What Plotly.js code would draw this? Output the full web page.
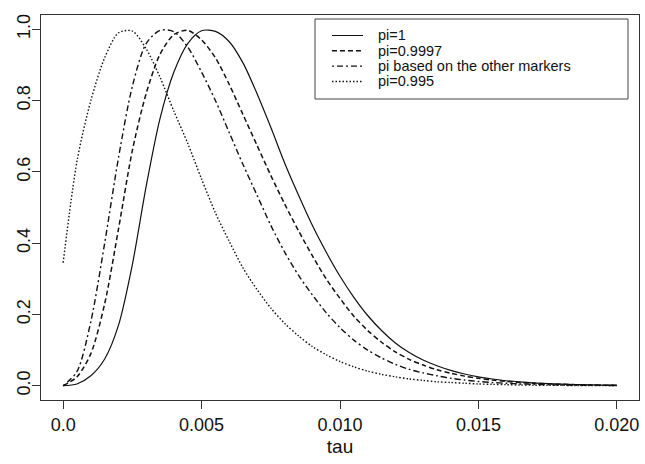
<!DOCTYPE html>
<html>
<head>
<meta charset="utf-8">
<script src="https://cdn.plot.ly/plotly-3.0.1.min.js"></script>
<style>html,body{margin:0;padding:0;background:#fff;}#chart{width:645px;height:464px;}</style>
</head>
<body>
<div id="chart"></div>
<script>
// tau grid (x values)
const tau = [0,0.0005,0.001,0.0015,0.002,0.0025,0.003,0.0035,0.004,0.0045,0.005,0.0055,0.006,0.0065,0.007,0.0075,0.008,0.0085,0.009,0.0095,0.010,0.0105,0.011,0.0115,0.012,0.0125,0.013,0.0135,0.014,0.0145,0.015,0.0155,0.016,0.0165,0.017,0.0175,0.018,0.0185,0.019,0.0195,0.020];

// series values
const pi1 = [0,0.005,0.028,0.075,0.17,0.34,0.56,0.75,0.88,0.96,0.996,0.994,0.965,0.905,0.82,0.725,0.625,0.535,0.45,0.375,0.307,0.248,0.197,0.155,0.12,0.093,0.072,0.056,0.043,0.033,0.025,0.019,0.014,0.011,0.008,0.006,0.0045,0.0035,0.0025,0.002,0.0015];
const pi9997 = [0,0.025,0.09,0.23,0.44,0.66,0.82,0.93,0.985,0.997,0.97,0.92,0.845,0.76,0.675,0.59,0.51,0.435,0.365,0.30,0.245,0.195,0.155,0.122,0.095,0.074,0.058,0.045,0.035,0.027,0.021,0.016,0.012,0.009,0.007,0.005,0.004,0.003,0.002,0.0015,0.001];
const piOther = [0,0.04,0.18,0.40,0.64,0.84,0.96,0.997,0.993,0.95,0.88,0.80,0.71,0.62,0.535,0.45,0.375,0.31,0.255,0.205,0.163,0.128,0.1,0.078,0.06,0.046,0.036,0.028,0.021,0.016,0.012,0.009,0.007,0.005,0.004,0.003,0.002,0.0015,0.001,0.001,0.0005];
const pi995 = [0.345,0.63,0.80,0.92,0.99,0.995,0.945,0.865,0.77,0.68,0.58,0.485,0.405,0.33,0.27,0.218,0.175,0.14,0.11,0.087,0.068,0.053,0.041,0.032,0.025,0.019,0.015,0.011,0.009,0.007,0.005,0.004,0.003,0.002,0.0015,0.001,0.001,0.0005,0.0005,0.0003,0.0002];

const names = ["pi=1","pi=0.9997","pi based on the other markers","pi=0.995"];
const xTicks = [0,0.005,0.010,0.015,0.020];
const xTickText = ["0.0","0.005","0.010","0.015","0.020"];
const yTicks = [0,0.2,0.4,0.6,0.8,1.0];
const yTickText = ["0.0","0.2","0.4","0.6","0.8","1.0"];

const series = [pi1, pi9997, piOther, pi995];
const dashes = ["solid","5px,3px","2px,3px,6px,3px","1.5px,2px"];
const widths = [1.2,1.5,1.4,1.4];

const traces = series.map((s,i)=>({
  x: tau, y: s, type:"scatter", mode:"lines", name: names[i], showlegend:false,
  line:{color:"#111", width: widths[i], dash: dashes[i], shape:"spline", smoothing:0.8}
}));

const fam = "Liberation Sans, Arial, Helvetica, sans-serif";

// legend box (drawn in paper coordinates, R-style key with tight rows)
const legBox = {x0:0.4582, x1:0.9816, y0:0.7818, y1:0.9896};
const legRowTop = 0.9468, legRowStep = 0.0398;
const shapes = [{type:"rect", xref:"paper", yref:"paper", x0:legBox.x0, x1:legBox.x1, y0:legBox.y0, y1:legBox.y1,
  line:{color:"#444", width:1}, fillcolor:"#fff", layer:"above"}];
const annotations = [];
names.forEach((n,i)=>{
  const yy = legRowTop - i*legRowStep;
  shapes.push({type:"line", xref:"paper", yref:"paper", x0:0.4866, x1:0.5385, y0:yy, y1:yy,
    line:{color:"#111", width:widths[i], dash:dashes[i]}, layer:"above"});
  annotations.push({xref:"paper", yref:"paper", x:0.5602, y:yy, xanchor:"left", yanchor:"middle",
    text:n, showarrow:false, font:{size:14.5, family:fam, color:"#111"}});
});

const layout = {
  width:645, height:464,
  margin:{l:41, r:6, t:15, b:64},
  paper_bgcolor:"#fff", plot_bgcolor:"#fff",
  font:{family:fam, color:"#111"},
  showlegend:false,
  shapes: shapes, annotations: annotations,
  xaxis:{range:[-0.0008,0.0208], tickvals:xTicks, ticktext:xTickText,
    ticks:"outside", ticklen:8, tickcolor:"#333", tickwidth:1,
    showline:true, mirror:true, linecolor:"#333", linewidth:1,
    showgrid:false, zeroline:false,
    tickfont:{size:18, family:fam, color:"#111"},
    title:{text:"tau", font:{size:19, family:fam, color:"#111"}, standoff:6}},
  yaxis:{range:[-0.04,1.04], tickvals:yTicks, ticktext:yTickText,
    ticks:"outside", ticklen:8, tickcolor:"#333", tickwidth:1,
    showline:true, mirror:true, linecolor:"#333", linewidth:1,
    showgrid:false, zeroline:false, tickangle:-90, ticklabelstandoff:-5,
    tickfont:{size:18, family:fam, color:"#111"}}
};

Plotly.newPlot("chart", traces, layout, {displayModeBar:false, staticPlot:true});
</script>
</body>
</html>
